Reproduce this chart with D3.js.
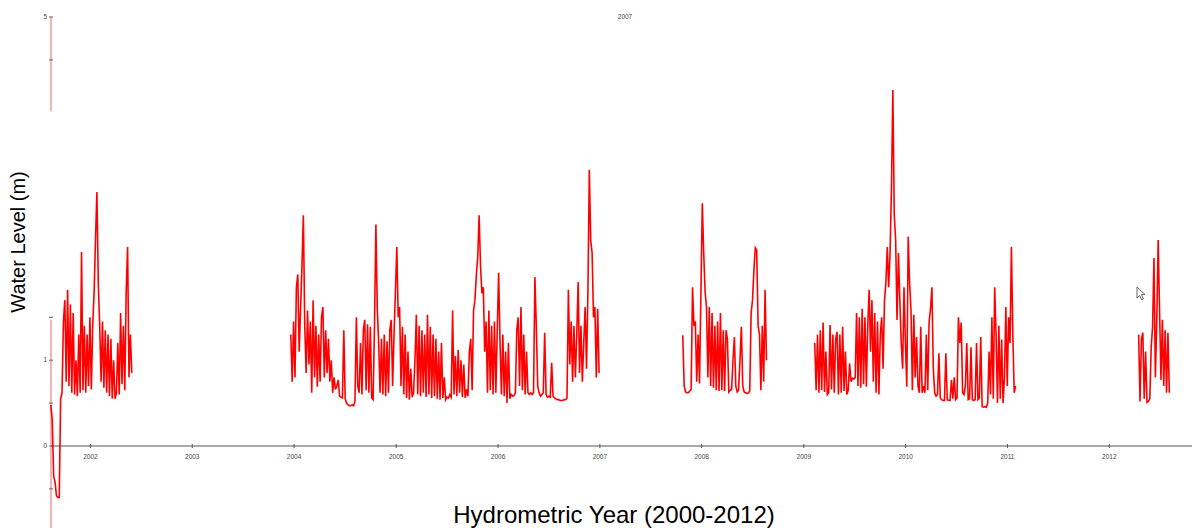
<!DOCTYPE html>
<html>
<head>
<meta charset="utf-8">
<script src="https://d3js.org/d3.v7.min.js"></script>
<style>
body { margin: 0; background: #fff; }
</style>
</head>
<body>
<div id="waterLevel"></div>
<script>
// water level series, one reading every 5 days, split where the record has gaps
var stepDays = 5;

var seg2001Start = "2001-08-14";
var seg2001 = [0.48,0.30,-0.35,-0.42,-0.58,-0.60,-0.60,0.55,0.62,1.45,
    1.70,0.75,1.82,0.70,1.65,0.62,1.55,0.60,1.00,0.58,
    1.30,0.62,2.26,0.65,1.40,0.62,1.30,0.70,1.50,0.66,
    1.40,1.80,2.40,2.96,1.90,1.40,0.75,1.45,0.68,1.35,
    0.62,1.30,0.58,1.25,0.55,1.00,0.55,0.62,1.20,0.60,
    1.55,0.72,1.40,0.65,1.80,2.32,0.80,1.30,0.85];

var seg2004Start = "2003-12-22";
var seg2004 = [1.30,0.75,1.45,0.80,1.85,2.00,1.10,1.60,2.10,2.69,
    1.40,0.85,1.58,0.95,1.45,0.62,1.70,0.80,1.40,0.69,
    1.30,0.75,1.50,1.62,0.80,1.35,0.85,1.25,0.75,1.00,
    0.62,0.80,0.66,0.70,0.77,0.58,0.57,0.56,1.35,0.55,
    0.50,0.48,0.47,0.47,0.48,0.47,0.52,1.50,0.70,0.62,
    1.20,0.60,1.35,1.47,0.65,1.42,0.62,1.39,0.56,0.54,
    1.40,2.58,1.60,1.20,0.62,1.25,0.60,1.30,0.58,1.22,
    0.62,1.35,1.47,0.70,1.30,1.80,2.32,1.50,1.62,0.70,
    1.39,0.60,1.30,0.56,1.10,0.54,0.90,0.57,0.62,1.00,
    1.53,0.60,1.40,0.58,1.35,0.62,1.30,0.57,1.53,0.60,
    1.39,0.56,1.30,0.58,1.25,0.55,1.10,0.54,1.20,0.56,
    0.80,0.54,0.57,0.56,0.60,0.57,1.58,0.60,1.05,0.58,
    1.12,0.62,1.00,0.57,0.95,0.56,0.66,0.58,1.10,1.25,
    0.65,1.58,1.70,1.99,2.20,2.69,2.10,1.78,1.85,1.10,
    1.45,0.62,1.58,0.65,1.40,0.60,1.45,0.62,1.35,2.02,
    1.20,0.60,1.30,0.58,1.10,0.50,1.20,0.55,0.60,0.58,
    0.59,0.62,1.35,1.50,0.70,1.62,0.65,1.30,0.60,1.10,
    0.62,0.60,0.62,0.60,0.62,1.97,1.39,0.70,0.62,0.58,
    0.60,0.62,1.32,0.60,0.57,0.58,0.57,0.97,0.58,0.56,
    0.55,0.54,0.54,0.53,0.53,0.53,0.54,0.54,0.56,1.82,
    0.95,1.45,0.75,1.40,0.80,1.30,1.91,0.85,1.40,0.75,
    1.20,1.62,0.90,1.80,3.22,2.40,2.25,1.50,1.62,0.80,
    1.60,0.85];

var seg2008Start = "2007-10-27";
var seg2008 = [1.29,0.70,0.63,0.62,0.62,0.64,0.66,1.85,1.40,1.45,
    0.75,1.30,0.73,1.78,2.83,2.25,1.80,1.62,0.80,1.62,
    0.70,1.55,0.68,1.40,0.65,1.45,0.64,1.55,0.65,1.35,
    0.64,1.35,1.25,0.63,0.65,0.66,1.00,1.27,0.70,0.63,
    0.65,1.00,1.39,0.70,0.63,0.62,0.61,0.62,0.64,1.55,
    1.70,2.05,2.31,2.28,1.40,1.30,0.65,1.40,0.75,1.82,
    1.00];

var seg2009Start = "2009-02-11";
var seg2009 = [1.20,0.65,1.30,0.62,1.35,0.65,1.44,0.63,1.10,0.60,
    0.62,1.41,0.66,1.30,0.62,1.25,1.33,0.60,1.30,0.62,
    1.39,0.64,1.10,0.60,0.65,0.96,0.75,0.79,0.78,0.80,
    1.55,0.70,1.50,0.68,1.60,0.72,1.50,0.69,1.40,1.82,
    1.10,1.70,0.75,1.55,0.62,1.45,0.60,1.30,1.50,0.90,
    1.70,1.90,2.32,1.85,2.25,3.00,4.15,2.70,2.40,1.47,
    2.25,1.70,1.20,0.90,1.85,1.20,0.69,2.44,1.90,1.58,
    0.65,1.53,0.80,1.27,0.70,0.62,1.39,0.62,0.70,0.62,
    1.30,0.65,1.45,1.60,1.85,0.90,0.62,0.58,0.60,1.08,
    0.56,0.54,0.53,0.53,1.08,0.54,0.53,0.53,0.77,0.55,
    0.80,0.54,0.56,1.50,1.20,1.44,0.62,0.60,0.70,1.20,
    0.54,0.55,1.15,0.54,0.53,0.54,1.20,0.54,0.56,1.27,
    0.46,0.45,0.46,0.45,0.50,1.10,0.60,1.50,0.55,1.85,
    1.30,0.50,1.40,0.55,1.24,0.50,0.80,1.62,0.70,1.50,
    1.20,2.32,1.30,0.62,0.70];

var seg2012Start = "2012-04-17";
var seg2012 = [1.30,0.52,1.25,1.32,0.55,1.10,0.51,0.52,0.55,1.15,
    1.39,2.19,0.80,1.47,2.40,1.58,0.77,1.47,0.70,1.35,
    0.62,1.32,0.62];

var yearTicks = [2002, 2003, 2004, 2005, 2006, 2007, 2008, 2009, 2010, 2011, 2012];
var yTicksLabelled = [5, 1, 0];
var yTicksMinor = [4.5, 1.5, 0.5, -0.5];
var chartTitle = "2007";
var xTitle = "Hydrometric Year (2000-2012)";
var yTitle = "Water Level (m)";

var svgWidth = 1192, svgHeight = 528;
var margin = {top: 17, left: 51};
var zeroY = 446;

var parseDate = d3.timeParse("%Y-%m-%d");

var segments = [
    {start: seg2001Start, values: seg2001},
    {start: seg2004Start, values: seg2004},
    {start: seg2008Start, values: seg2008},
    {start: seg2009Start, values: seg2009},
    {start: seg2012Start, values: seg2012}
].map(function(s){
    var t0 = parseDate(s.start);
    return s.values.map(function(v, i){
        return {date: d3.timeDay.offset(t0, i * stepDays), level: v};
    });
});

//Setting scale parameters
var xScale = d3.scaleTime()
    .domain([new Date(2001, 0, 1), new Date(2013, 0, 1)])
    .range([-11.9, 1210.9]);

var yScale = d3.scaleLinear()
    .domain([0, 5])
    .range([zeroY, margin.top]);

var svg = d3.select("#waterLevel").append("svg")
    .attr("width", svgWidth)
    .attr("height", svgHeight)
    .style("font-family", "'Liberation Sans', Arial, sans-serif");

// x axis baseline
svg.append("line")
    .attr("x1", margin.left)
    .attr("x2", svgWidth)
    .attr("y1", yScale(0))
    .attr("y2", yScale(0))
    .attr("stroke", "#555")
    .attr("stroke-width", 1);

var xAxis = d3.axisBottom(xScale)
    .tickValues(yearTicks.map(function(y){ return new Date(y, 0, 1); }))
    .tickFormat(d3.timeFormat("%Y"))
    .tickSizeInner(2)
    .tickSizeOuter(0)
    .tickPadding(6);

var gx = svg.append("g")
    .attr("class", "axis axis--x")
    .attr("transform", "translate(0," + yScale(0) + ")")
    .call(xAxis);
gx.select(".domain").remove();
gx.selectAll(".tick line").attr("y1", -2).attr("stroke", "#555");
gx.selectAll(".tick text")
    .attr("fill", "#444")
    .style("font-size", "6.5px");

// y axis, drawn in red like the series
var gy = svg.append("g")
    .attr("class", "axis axis--y")
    .attr("transform", "translate(" + margin.left + ",0)");

gy.append("line")
    .attr("y1", yScale(5))
    .attr("y2", yScale(3.9))
    .attr("stroke", "#e46a6a");
gy.append("line")
    .attr("y1", yScale(1.47))
    .attr("y2", svgHeight)
    .attr("stroke", "#e46a6a");

gy.selectAll(".minor")
    .data(yTicksLabelled.concat(yTicksMinor))
    .enter().append("line")
    .attr("x1", -2)
    .attr("x2", 2)
    .attr("y1", function(d){ return yScale(d); })
    .attr("y2", function(d){ return yScale(d); })
    .attr("stroke", "#666");

gy.selectAll(".lbl")
    .data(yTicksLabelled)
    .enter().append("text")
    .attr("x", -4)
    .attr("y", function(d){ return yScale(d); })
    .attr("dy", "0.35em")
    .attr("text-anchor", "end")
    .attr("fill", "#444")
    .style("font-size", "6.5px")
    .text(function(d){ return d; });

// series
var line = d3.line()
    .x(function(d){ return xScale(d.date); })
    .y(function(d){ return yScale(d.level); });

svg.append("g").selectAll("path")
    .data(segments)
    .enter().append("path")
    .attr("d", line)
    .attr("fill", "none")
    .attr("stroke", "#ff0000")
    .attr("stroke-width", 1.6)
    .attr("stroke-linejoin", "miter");

// small title at the top
svg.append("text")
    .attr("x", 625)
    .attr("y", 17)
    .attr("dy", "0.35em")
    .attr("text-anchor", "middle")
    .attr("fill", "#444")
    .style("font-size", "6.5px")
    .text(chartTitle);

svg.append("text")
    .attr("class", "axis-label")
    .attr("transform", "rotate(-90)")
    .attr("x", -242)
    .attr("y", 25)
    .attr("text-anchor", "middle")
    .style("font-size", "20px")
    .text(yTitle);

svg.append("text")
    .attr("class", "axis-label")
    .attr("x", 614)
    .attr("y", 523)
    .attr("text-anchor", "middle")
    .style("font-size", "24px")
    .text(xTitle);

// mouse pointer left in the screenshot
svg.append("path")
    .attr("transform", "translate(1137,287)")
    .attr("d", "M0,0 L0,11 L2.6,8.4 L4.6,12.8 L6.4,12 L4.4,7.6 L8,7.6 Z")
    .attr("fill", "#fff")
    .attr("stroke", "#666")
    .attr("stroke-width", 1);
</script>
</body>
</html>
